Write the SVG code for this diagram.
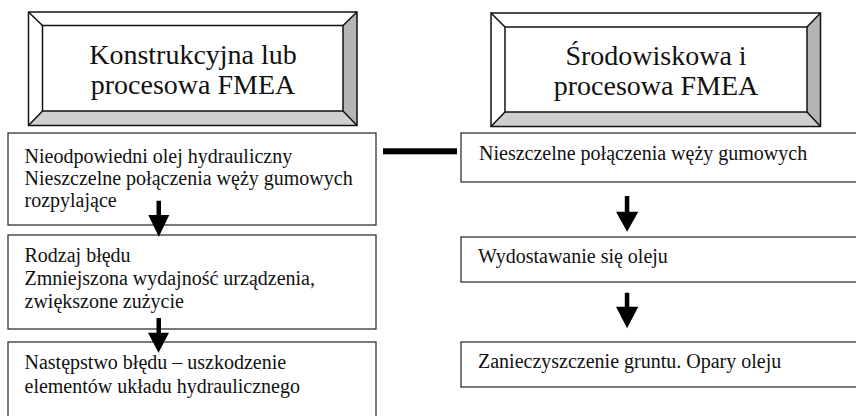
<svg xmlns="http://www.w3.org/2000/svg" width="856" height="416" viewBox="0 0 856 416">
<style>
.t{font-family:"Liberation Serif","Times New Roman",serif;fill:#111}
.h{font-size:28px;text-anchor:middle}
.b{font-size:20px}
.box{fill:#fff;stroke:#333;stroke-width:1.3}
.edge{fill:none;stroke:#111;stroke-width:1.5;stroke-linejoin:miter}
.gr{fill:#b4b4b4}
.gb{fill:#cfcfcf}
.arr{fill:#000}
</style>
<rect width="856" height="416" fill="#fff"/>
<g id="header-left">
<rect x="28.5" y="12" width="328.5" height="113.5" fill="#fff"/>
<polygon class="gr" points="343,25.5 357,12 357,125.5 343,111"/>
<polygon class="gb" points="42.5,111 343,111 357,125.5 28.5,125.5"/>
<rect class="edge" x="28.5" y="12" width="328.5" height="113.5"/>
<rect class="edge" x="42.5" y="25.5" width="300.5" height="85.5"/>
<path class="edge" d="M28.5,12L42.5,25.5M357,12L343,25.5M28.5,125.5L42.5,111M357,125.5L343,111"/>
<text class="t h" x="193" y="64">Konstrukcyjna lub</text>
<text class="t h" x="193" y="93.5">procesowa FMEA</text>
</g>
<g id="header-right">
<rect x="491" y="13" width="329.5" height="113.5" fill="#fff"/>
<polygon class="gr" points="807,27 820.5,13 820.5,126.5 807,112"/>
<polygon class="gb" points="505,112 807,112 820.5,126.5 491,126.5"/>
<rect class="edge" x="491" y="13" width="329.5" height="113.5"/>
<rect class="edge" x="505" y="27" width="302" height="85"/>
<path class="edge" d="M491,13L505,27M820.5,13L807,27M491,126.5L505,112M820.5,126.5L807,112"/>
<text class="t h" x="656" y="65">Środowiskowa i</text>
<text class="t h" x="656" y="94.5">procesowa FMEA</text>
</g>
<g id="left-1">
<rect class="box" x="8" y="133" width="368" height="92"/>
<text class="t b" x="24.5" y="162.7">Nieodpowiedni olej hydrauliczny</text>
<text class="t b" x="24.5" y="185">Nieszczelne połączenia węży gumowych</text>
<text class="t b" x="24.5" y="207.3">rozpylające</text>
</g>
<g id="left-2">
<rect class="box" x="8" y="235" width="368" height="94"/>
<text class="t b" x="24.5" y="261.7">Rodzaj błędu</text>
<text class="t b" x="24.5" y="285">Zmniejszona wydajność urządzenia,</text>
<text class="t b" x="24.5" y="308.3">zwiększone zużycie</text>
</g>
<g id="left-3">
<rect class="box" x="8" y="342" width="368" height="80"/>
<text class="t b" x="24.5" y="369.3">Następstwo błędu – uszkodzenie</text>
<text class="t b" x="24.5" y="392.7">elementów układu hydraulicznego</text>
</g>
<g id="right-1">
<rect class="box" x="461" y="133" width="400" height="49"/>
<text class="t b" x="479" y="160">Nieszczelne połączenia węży gumowych</text>
</g>
<g id="right-2">
<rect class="box" x="461" y="237" width="400" height="45"/>
<text class="t b" x="478" y="262.7">Wydostawanie się oleju</text>
</g>
<g id="right-3">
<rect class="box" x="461" y="342" width="400" height="45"/>
<text class="t b" x="478" y="368.3">Zanieczyszczenie gruntu. Opary oleju</text>
</g>
<g id="connectors">
<rect class="arr" x="383" y="148.3" width="74" height="6"/>
<polygon class="arr" points="156.5,200.7 161,200.7 161,215 169.3,215 158.8,236.7 148.3,215 156.5,215"/>
<polygon class="arr" points="156.5,318 161,318 161,332.7 169,332.7 158.5,352.7 148,332.7 156.5,332.7"/>
<polygon class="arr" points="624.8,196 629.3,196 629.3,211.7 638.3,211.7 627.1,231.7 616,211.7 624.8,211.7"/>
<polygon class="arr" points="624.8,292.7 629.3,292.7 629.3,306.7 638.3,306.7 627.1,328.3 616,306.7 624.8,306.7"/>
</g>
</svg>
